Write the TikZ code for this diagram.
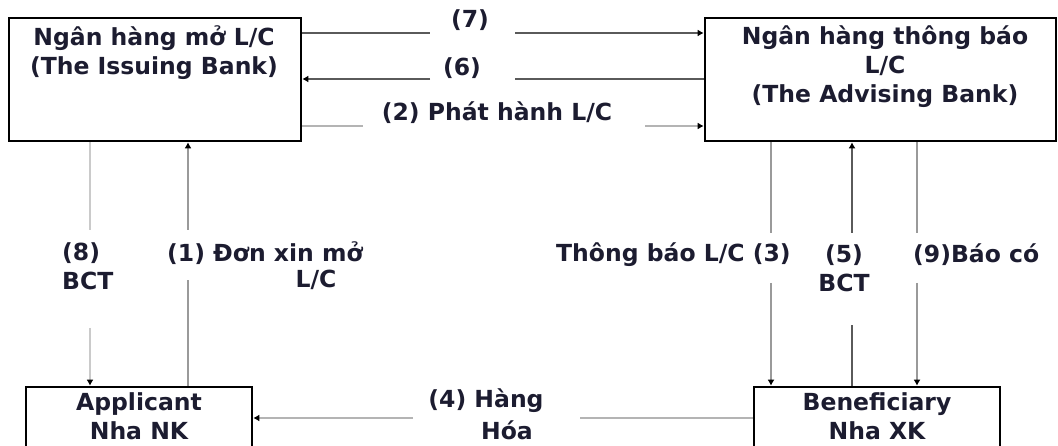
\documentclass[tikz,border=0pt]{standalone}
\usepackage{fontspec}
\setmainfont{DejaVu Sans}
\usetikzlibrary{arrows.meta}
\definecolor{txt}{HTML}{1C1C30}
\definecolor{gA}{HTML}{5A5A5A}
\definecolor{gB}{HTML}{B4B4B4}
\definecolor{gC}{HTML}{CACACA}
\definecolor{gD}{HTML}{9A9A9A}
\tikzset{
  box/.style={draw=black,line width=2.6pt,fill=white,inner sep=0pt},
  lbl/.style={font=\bfseries\fontsize{23.5}{29}\selectfont,text=txt,inner sep=0pt,align=center},
  conn/.style={line width=1.8pt},
  tip/.style={-{Latex[length=6pt,width=7pt,color=black]}},
}
\begin{document}
\begin{tikzpicture}[x=1pt,y=-1pt]
\useasboundingbox (0,0) rectangle (1058,446);
\clip (0,0) rectangle (1058,446);
% boxes
\node[box,minimum width=292pt,minimum height=123pt] (ib) at (155,79.5) {};
\node[box,minimum width=351pt,minimum height=123pt] (ab) at (880.5,79.5) {};
\node[box,minimum width=226pt,minimum height=74pt] (ap) at (139,424) {};
\node[box,minimum width=246pt,minimum height=74pt] (be) at (877,424) {};
% box texts
\node[lbl] (ibt) at (154,52.5) {Ngân hàng mở L/C\\(The Issuing Bank)};
\node[lbl] (abt) at (885,66.5) {Ngân hàng thông báo\\L/C\\(The Advising Bank)};
\node[lbl] (apt) at (139,416.5) {Applicant\\Nha NK};
\node[lbl] (bet) at (877,416.5) {Beneficiary\\Nha XK};
% gap coordinates
\coordinate (a7) at (430,33); \coordinate (b7) at (515,33);
\coordinate (a6) at (430,79); \coordinate (b6) at (515,79);
\coordinate (a2) at (363,126); \coordinate (b2) at (645,126);
\coordinate (a8) at (90,230); \coordinate (b8) at (90,328);
\coordinate (a1) at (188,230); \coordinate (b1) at (188,280);
\coordinate (a3) at (771,233); \coordinate (b3) at (771,283);
\coordinate (a5) at (852,233); \coordinate (b5) at (852,325);
\coordinate (a9) at (917,233); \coordinate (b9) at (917,283);
\coordinate (a4) at (413,418); \coordinate (b4) at (580,418);
% (7)
\draw[conn,gA] (ib.east|-a7) -- (a7);
\draw[conn,gA,tip] (b7) -- (ab.west|-b7);
% (6)
\draw[conn,gA] (ab.west|-b6) -- (b6);
\draw[conn,gA,tip] (a6) -- (ib.east|-a6);
% (2)
\draw[conn,gB] (ib.east|-a2) -- (a2);
\draw[conn,gB,tip] (b2) -- (ab.west|-b2);
% (8)
\draw[conn,gC] (ib.south-|a8) -- (a8);
\draw[conn,gC,tip] (b8) -- (ap.north-|b8);
% (1)
\draw[conn,gD] (ap.north-|b1) -- (b1);
\draw[conn,gD,tip] (a1) -- (ib.south-|a1);
% (3)
\draw[conn,gD] (ab.south-|a3) -- (a3);
\draw[conn,gD,tip] (b3) -- (be.north-|b3);
% (5)
\draw[conn,gA] (be.north-|b5) -- (b5);
\draw[conn,gA,tip] (a5) -- (ab.south-|a5);
% (9)
\draw[conn,gD] (ab.south-|a9) -- (a9);
\draw[conn,gD,tip] (b9) -- (be.north-|b9);
% (4)
\draw[conn,gB] (be.west|-b4) -- (b4);
\draw[conn,gB,tip] (a4) -- (ap.east|-a4);
% labels
\node[lbl] (l7) at (470,20) {(7)};
\node[lbl] (l6) at (462,68) {(6)};
\node[lbl] (l2) at (497,113) {(2) Phát hành L/C};
\node[lbl,align=left,anchor=west] (l8) at (62,266.5) {(8)\\BCT};
\node[lbl,anchor=west] (l1a) at (167,253) {(1) Đơn xin mở};
\node[lbl] (l1b) at (316,280) {L/C};
\node[lbl,anchor=west] (l3) at (556,255) {Thông báo L/C (3)};
\node[lbl] (l5) at (844,268) {(5)\\BCT};
\node[lbl,anchor=west] (l9) at (913,255) {(9)Báo có};
\node[lbl] (l4a) at (486,401) {(4) Hàng};
\node[lbl] (l4b) at (507,430) {Hóa};
\end{tikzpicture}
\end{document}
